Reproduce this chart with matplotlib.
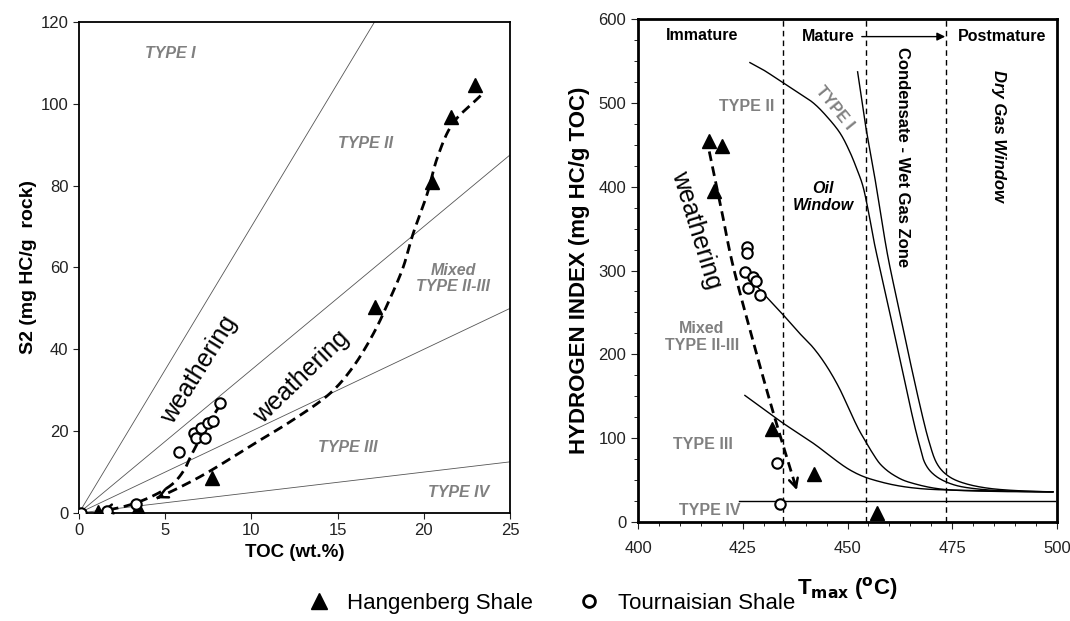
import matplotlib
matplotlib.use("Agg")
import matplotlib.pyplot as plt
from matplotlib.lines import Line2D
import numpy as np

plt.rcParams['font.family'] = ['Liberation Sans', 'DejaVu Sans']

# ---- left panel: S2 vs TOC ----
hang_toc = [1.1, 3.4, 7.7, 17.2, 20.5, 21.6, 23.0]
hang_s2 = [0.2, 1.3, 8.5, 50.4, 80.9, 96.8, 104.6]
tour_toc = [0.1, 1.6, 3.3, 5.8, 6.7, 6.8, 7.1, 7.3, 7.5, 7.8, 8.2]
tour_s2 = [0.1, 0.4, 2.3, 15.0, 19.5, 18.3, 20.7, 18.3, 21.9, 22.4, 26.8]

# kerogen type boundaries, HI (mg HC/g TOC) -> S2 = HI/100 * TOC
type_hi = [700, 350, 200, 50]

# weathering trends (hand-traced)
trend_hang_toc = [23.3, 21.7, 20.8, 20.2, 19.4, 18.8, 18.0, 17.1, 15.9, 14.5, 12.4, 10.5, 7.7, 6.0, 4.5]
trend_hang_s2 = [102, 95.3, 87, 78, 68.5, 60, 52, 44, 35.7, 29, 22.7, 17.8, 10.5, 6.6, 3.6]
trend_tour_toc = [8.2, 7.6, 7.0, 6.5, 6.1, 5.4, 4.2, 2.8, 1.3]
trend_tour_s2 = [26.5, 22.5, 18.0, 14.0, 10.5, 7.0, 4.0, 1.8, 0.4]

# ---- right panel: HI vs Tmax ----
hang_tmax = [417.0, 420.1, 418.2, 432.0, 442.0, 457.0]
hang_hi = [455, 449, 395, 111, 57, 11]
tour_tmax = [425.9, 425.9, 425.6, 427.4, 426.3, 428.2, 429.0, 433.1, 433.9]
tour_hi = [328, 321, 298, 292, 279, 288, 271, 70, 21]

t1_tmax = [452.4, 454.2, 456.6, 459.5, 462.5, 465.0, 467.7, 469.5, 471.3, 474, 478, 484, 492, 499]
t1_hi = [537, 476, 408, 320, 249, 190, 130, 95, 70, 55, 46, 40, 37, 36]
t2_tmax = [426.7, 430, 434.3, 438, 441.8, 445, 448.2, 450.5, 452.3, 453.7, 455, 456.5, 458.3, 460.1,
           462.7, 465.3, 467, 468.5, 471, 475, 480, 488, 499]
t2_hi = [548, 539, 525, 513, 500, 484, 464, 442, 420, 400, 370, 330, 290, 249,
         190, 130, 95, 70, 55, 45, 40, 37, 36]
t23_tmax = [425.5, 430, 434.3, 438, 441.8, 445, 448, 450.5, 452.5, 454.2, 456, 458, 461, 465, 472.8, 485, 499]
t23_hi = [297, 272, 249, 228, 208, 186, 160, 133, 112, 97, 82, 68, 56, 47, 39, 36.5, 36]
t3_tmax = [425.5, 434, 441.8, 450.6, 457.8, 467, 480, 499]
t3_hi = [151, 120, 94, 62, 48, 40, 37.5, 36]
t4_tmax = [424, 499.5]
t4_hi = [25, 25]

maturity_tmax = [434.5, 454.5, 473.5]

weather_tmax = [417, 420, 422.7, 427.5, 432.3, 437.9]
weather_hi = [442, 370, 305, 215, 130, 38]

gray = '#808080'


def smooth(xs, ys, n=25):
    # Catmull-Rom pass through the traced points
    p = np.column_stack([xs, ys]).astype(float)
    p = np.vstack([2 * p[0] - p[1], p, 2 * p[-1] - p[-2]])
    out = []
    t = np.linspace(0, 1, n, endpoint=False)[:, None]
    for i in range(1, len(p) - 2):
        p0, p1, p2, p3 = p[i - 1], p[i], p[i + 1], p[i + 2]
        seg = 0.5 * ((2 * p1) + (-p0 + p2) * t + (2 * p0 - 5 * p1 + 4 * p2 - p3) * t ** 2
                     + (-p0 + 3 * p1 - 3 * p2 + p3) * t ** 3)
        out.append(seg)
    out.append(p[-2][None, :])
    out = np.vstack(out)
    return out[:, 0], out[:, 1]


def dashed_arrow(ax, xs, ys):
    sx, sy = smooth(xs, ys)
    ax.plot(sx, sy, color='k', lw=2, ls=(0, (3.5, 2)), zorder=2)
    ax.annotate('', xy=(sx[-1], sy[-1]), xytext=(sx[-4], sy[-4]),
                arrowprops=dict(arrowstyle='->', lw=1.8, color='k', mutation_scale=16, shrinkA=0, shrinkB=0))


fig = plt.figure(figsize=(10.7, 6.21), dpi=100)
ax1 = fig.add_axes([0.0738, 0.1739, 0.4028, 0.7907])
ax2 = fig.add_axes([0.5963, 0.1594, 0.3916, 0.81])

# left panel
toc_line = np.array([0, 25])
for hi in type_hi:
    ax1.plot(toc_line, toc_line * hi / 100, color='#555555', lw=0.6, zorder=1)

dashed_arrow(ax1, trend_hang_toc, trend_hang_s2)
dashed_arrow(ax1, trend_tour_toc, trend_tour_s2)

ax1.plot(hang_toc, hang_s2, ls='none', marker='^', ms=9.5, color='k', zorder=3)
ax1.plot(tour_toc, tour_s2, ls='none', marker='o', ms=7.5, mfc='white', mec='k', mew=1.5, zorder=3)

lab = dict(color=gray, fontweight='bold', fontstyle='italic', fontsize=11.5, ha='center', va='center')
ax1.text(5.3, 112.4, 'TYPE I', **lab)
ax1.text(16.6, 90.4, 'TYPE II', **lab)
ax1.text(21.7, 57.4, 'Mixed\nTYPE II-III', linespacing=1.1, **lab)
ax1.text(15.6, 15.9, 'TYPE III', **lab)
ax1.text(22.0, 4.9, 'TYPE IV', **lab)
ax1.text(7.0, 35.0, 'weathering', fontsize=18, rotation=58, ha='center', va='center')
ax1.text(12.9, 33.3, 'weathering', fontsize=18, rotation=44, ha='center', va='center')

ax1.set_xlim(0, 25)
ax1.set_ylim(0, 120)
ax1.set_xticks(np.arange(0, 26, 5))
ax1.set_yticks(np.arange(0, 121, 20))
ax1.tick_params(labelsize=12, length=4, direction='out', colors='#222222')
ax1.set_xlabel('TOC (wt.%)', fontsize=13.5, fontweight='bold', labelpad=4)
ax1.set_ylabel('S2 (mg HC/g  rock)', fontsize=14, fontweight='bold', labelpad=3)
for s in ax1.spines.values():
    s.set_linewidth(1.3)

# right panel
for t in maturity_tmax:
    ax2.axvline(t, color='k', lw=1, ls=(0, (4, 3)), zorder=1)
for xs, ys in [(t1_tmax, t1_hi), (t2_tmax, t2_hi), (t23_tmax, t23_hi), (t3_tmax, t3_hi)]:
    sx, sy = smooth(xs, ys)
    ax2.plot(sx, sy, color='k', lw=1, zorder=2)
ax2.plot(t4_tmax, t4_hi, color='k', lw=1, zorder=2)

dashed_arrow(ax2, weather_tmax, weather_hi)

ax2.plot(hang_tmax, hang_hi, ls='none', marker='^', ms=10, color='k', zorder=3)
ax2.plot(tour_tmax, tour_hi, ls='none', marker='o', ms=7.5, mfc='white', mec='k', mew=1.5, zorder=3)

ax2.text(415.2, 580, 'Immature', fontsize=11.5, fontweight='bold', ha='center', va='center')
ax2.text(445.3, 579, 'Mature', fontsize=11.5, fontweight='bold', ha='center', va='center')
ax2.text(486.8, 579, 'Postmature', fontsize=11.5, fontweight='bold', ha='center', va='center')
ax2.annotate('', xy=(473.3, 579), xytext=(453.4, 579),
             arrowprops=dict(arrowstyle='-|>', lw=1, color='k', mutation_scale=12, shrinkA=0, shrinkB=0))
ax2.text(444.2, 388, 'Oil\nWindow', fontsize=11.5, fontweight='bold', fontstyle='italic',
         ha='center', va='center', linespacing=1.2)
ax2.text(463.0, 435, 'Condensate - Wet Gas Zone', fontsize=12, fontweight='bold', rotation=-90,
         ha='center', va='center')
ax2.text(486.0, 460, 'Dry Gas Window', fontsize=12, fontweight='bold', fontstyle='italic', rotation=-90,
         ha='center', va='center')

lab2 = dict(color=gray, fontweight='bold', fontsize=11.5, ha='center', va='center')
ax2.text(426.0, 496, 'TYPE II', **lab2)
ax2.text(447.0, 494, 'TYPE I', rotation=-51, **lab2)
ax2.text(415.2, 221, 'Mixed\nTYPE II-III', linespacing=1.15, **lab2)
ax2.text(415.5, 92, 'TYPE III', **lab2)
ax2.text(417.2, 14, 'TYPE IV', **lab2)
ax2.text(414.0, 348, 'weathering', fontsize=18, rotation=-73, ha='center', va='center')

ax2.set_xlim(400, 500)
ax2.set_ylim(0, 600)
ax2.set_xticks(np.arange(400, 501, 25))
ax2.set_yticks(np.arange(0, 601, 100))
ax2.set_xticks(np.arange(400, 501, 5), minor=True)
ax2.set_yticks(np.arange(0, 601, 25), minor=True)
ax2.tick_params(which='major', labelsize=12, length=5, direction='out', colors='#222222')
ax2.tick_params(axis='x', which='major', pad=9)
ax2.tick_params(which='minor', length=3, direction='out')
ax2.set_xlabel('T$_{\\mathbf{max}}$ ($^{\\mathbf{o}}$C)', fontsize=16, fontweight='bold', labelpad=13)
ax2.set_ylabel('HYDROGEN INDEX (mg HC/g TOC)', fontsize=16, fontweight='bold', labelpad=6)
for s in ax2.spines.values():
    s.set_linewidth(2)

# shared legend
handles = [Line2D([], [], ls='none', marker='^', ms=11, color='k'),
           Line2D([], [], ls='none', marker='o', ms=8.5, mfc='white', mec='k', mew=2)]
fig.legend(handles, ['Hangenberg Shale', 'Tournaisian Shale'], loc='center', bbox_to_anchor=(0.51, 0.028),
           ncol=2, frameon=False, fontsize=16, handletextpad=0.3, columnspacing=1.5)

fig.savefig('out.png', dpi=100)
